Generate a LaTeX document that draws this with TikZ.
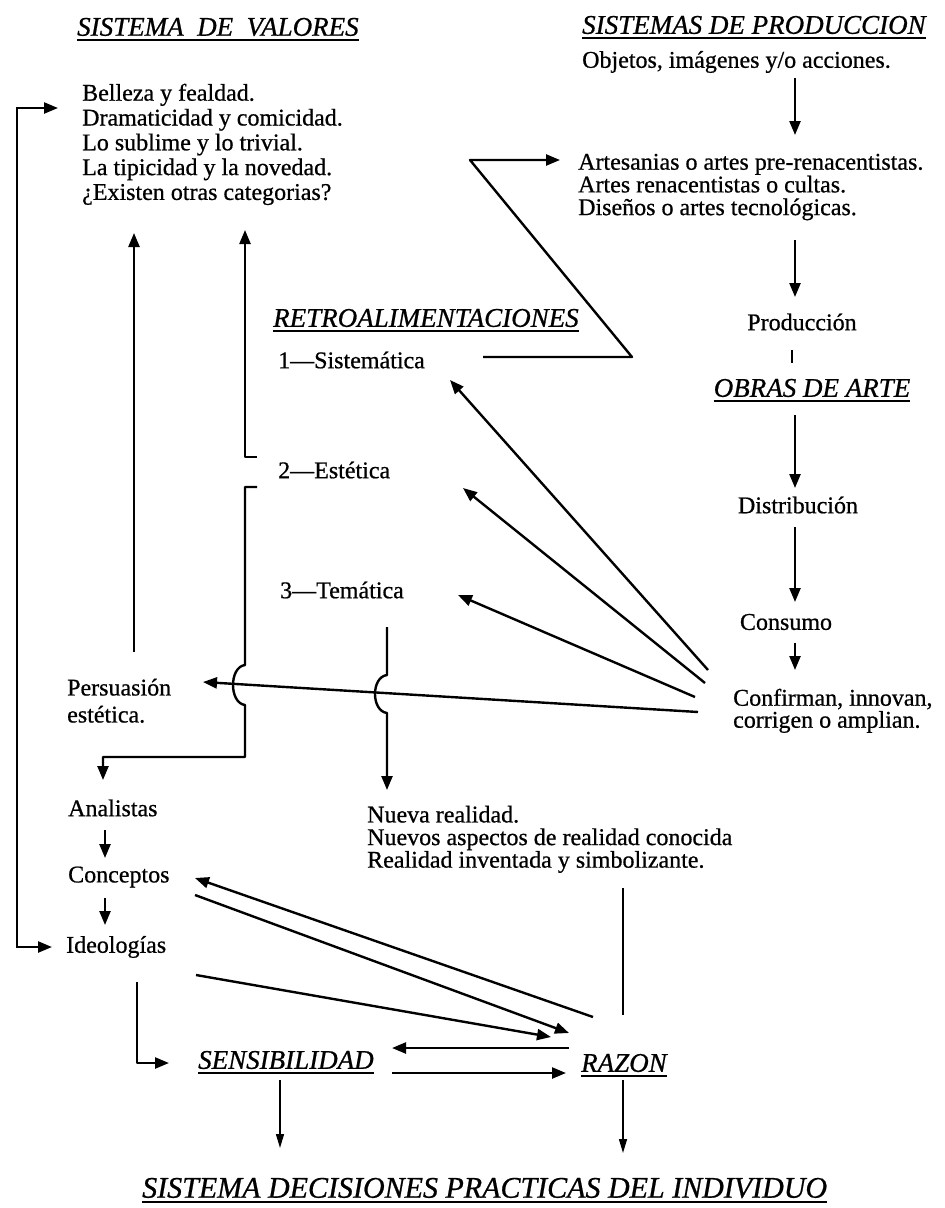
\documentclass[tikz,border=0pt]{standalone}
\usepackage{fontspec}
\setmainfont{Liberation Serif}[FakeBold=0.7]
\usetikzlibrary{arrows.meta}
\begin{document}
\begin{tikzpicture}[x=1pt,y=-1pt,
  txt/.style={inner sep=0pt,font=\fontsize{24}{25}\selectfont},
  ttl/.style={inner sep=0pt,font=\fontsize{27}{30}\selectfont\itshape},
  ln/.style={line width=2.4pt},
  arr/.style={line width=2.4pt,line join=round,-{Triangle[length=14pt,width=11pt]}},
  tharr/.style={line width=1.5pt,-{Triangle[length=14pt,width=8pt]}},
  thin/.style={line width=1.5pt},
  uline/.style={line width=2pt},
]
\fill[white] (0,0) rectangle (945,1208);
\useasboundingbox (0,0) rectangle (945,1208);

% ---------- titles ----------
\node[ttl,anchor=west] (tval) at (77,27) {SISTEMA\ \ DE\ \ VALORES};
\node[ttl,anchor=west] (tprod) at (582,25) {SISTEMAS DE PRODUCCION};
\node[ttl,anchor=west] (tretro) at (273,318) {RETROALIMENTACIONES};
\node[ttl,anchor=center] (obras) at (812,388) {OBRAS DE ARTE};
\node[ttl,anchor=west] (sens) at (198,1060) {SENSIBILIDAD};
\node[ttl,anchor=west] (razon) at (581,1063) {RAZON};
\node[ttl,anchor=west,font=\fontsize{30}{32}\selectfont\itshape] (tdec) at (142,1188) {SISTEMA DECISIONES PRACTICAS DEL INDIVIDUO};
\foreach \n in {tval,tprod,tretro,obras,sens,razon,tdec}
  \draw[uline] ([yshift=-4pt]\n.base west) -- ([yshift=-4pt]\n.base east);

% ---------- text blocks ----------
\node[txt,anchor=north west,align=left,font=\fontsize{24}{24.8}\selectfont] (vals) at (82,83.6)
  {Belleza y fealdad.\\Dramaticidad y comicidad.\\Lo sublime y lo trivial.\\La tipicidad y la novedad.\\¿Existen otras categorias?};
\node[txt,anchor=west] (objs) at (582,62) {Objetos, imágenes y/o acciones.};
\node[txt,anchor=north west,align=left,font=\fontsize{24}{22.7}\selectfont] (artes) at (578,153.6)
  {Artesanias o artes pre-renacentistas.\\Artes renacentistas o cultas.\\Diseños o artes tecnológicas.};
\node[txt] (prod) at (802,322) {Producción};
\node[txt] (dist) at (798,505) {Distribución};
\node[txt] (cons) at (786,622) {Consumo};
\node[txt,anchor=north west,align=left,font=\fontsize{24}{22}\selectfont] (conf) at (733,688.6)
  {Confirman, innovan,\\corrigen o amplian.};
\node[txt,anchor=west] (r1) at (278,360) {1—Sistemática};
\node[txt,anchor=west] (r2) at (278,470) {2—Estética};
\node[txt,anchor=west] (r3) at (280,590) {3—Temática};
\node[txt,anchor=north west,align=left,font=\fontsize{24}{27}\selectfont] (pers) at (67,678.6)
  {Persuasión\\estética.};
\node[txt,anchor=north west,align=left,font=\fontsize{24}{22.6}\selectfont] (nueva) at (367,805.6)
  {Nueva realidad.\\Nuevos aspectos de realidad conocida\\Realidad inventada y simbolizante.};
\node[txt,anchor=west] (anal) at (68,808) {Analistas};
\node[txt,anchor=west] (conc) at (68,877) {Conceptos};
\node[txt,anchor=west] (ideo) at (66,947) {Ideologías};

% ---------- connectors ----------
\coordinate (vIn) at (58,108);
\coordinate (vL1) at (17,108);
\coordinate (vL2) at (17,947);
\coordinate (iIn) at (52,947);
\draw[line width=2.4pt,{Triangle[length=14pt,width=11pt]}-{Triangle[length=14pt,width=11pt]}]
  (vIn) -- (vL1) -- (vL2) -- (iIn);

% persuasion -> values
\coordinate (pUp) at (134,652);
\coordinate (vA) at (134,233);
\draw[arr] (pUp) -- (vA);
% estetica -> values
\coordinate (e1) at (257,457);
\coordinate (vB) at (245,230);
\draw[arr] (e1) -- (245,457) -- (vB);
% estetica -> analistas
\coordinate (e2) at (257,487);
\coordinate (aTop) at (103,780);
\draw[arr] (e2) -- (245,487) -- (245,665) .. controls (229,667) and (229,703) .. (245,705)
  -- (245,757) -- (103,757) -- (aTop);
% tematica -> nueva realidad
\coordinate (t1) at (387,627);
\coordinate (nTop) at (387,790);
\draw[arr] (t1) -- (387,675) .. controls (371,677) and (371,711) .. (387,713) -- (nTop);
% confirman -> persuasion
\coordinate (c0) at (698,712);
\coordinate (pIn) at (203,682);
\draw[arr] (c0) -- (pIn);
% confirman -> retroalimentaciones
\coordinate (c1) at (708,670);
\coordinate (c2) at (705,683);
\coordinate (c3) at (695,697);
\coordinate (r1in) at (450,380);
\coordinate (r2in) at (463,488);
\coordinate (r3in) at (458,595);
\draw[arr] (c1) -- (r1in);
\draw[arr] (c2) -- (r2in);
\draw[arr] (c3) -- (r3in);
% sistematica -> artes
\coordinate (s0) at (483,357);
\coordinate (aIn) at (560,160);
\draw[arr] (s0) -- (632,357) -- (470,160) -- (aIn);

% right column
\coordinate (o1) at (795,78);  \coordinate (o2) at (795,135);
\coordinate (o3) at (795,240); \coordinate (o4) at (795,297);
\coordinate (o5) at (792,350); \coordinate (o6) at (792,363);
\coordinate (o7) at (795,415); \coordinate (o8) at (795,488);
\coordinate (o9) at (795,527); \coordinate (o10) at (795,602);
\coordinate (o11) at (795,643); \coordinate (o12) at (795,670);
\draw[arr] (o1) -- (o2);
\draw[arr] (o3) -- (o4);
\draw[ln] (o5) -- (o6);
\draw[arr] (o7) -- (o8);
\draw[arr] (o9) -- (o10);
\draw[arr] (o11) -- (o12);

% left column
\coordinate (l1) at (105,830); \coordinate (l2) at (105,858);
\coordinate (l3) at (105,898); \coordinate (l4) at (105,925);
\draw[arr] (l1) -- (l2);
\draw[arr] (l3) -- (l4);

% conceptos / ideologias <-> razon
\coordinate (cOut) at (195,895);
\coordinate (cIn) at (195,878);
\coordinate (iOut) at (196,975);
\coordinate (zIn1) at (569,1033);
\coordinate (zIn2) at (551,1037);
\coordinate (zOut) at (593,1017);
\draw[arr] (cOut) -- (zIn1);
\draw[arr] (zOut) -- (cIn);
\draw[arr] (iOut) -- (zIn2);
% ideologias -> sensibilidad
\coordinate (iDown) at (137,982);
\coordinate (sIn) at (169,1063);
\draw[arr] (iDown) -- (137,1063) -- (sIn);
% sensibilidad <-> razon
\coordinate (zs1) at (569,1048); \coordinate (zs2) at (392,1048);
\coordinate (sz1) at (392,1073); \coordinate (sz2) at (566,1073);
\draw[arr] (zs1) -- (zs2);
\draw[arr] (sz1) -- (sz2);
% realidad -> razon (line)
\coordinate (n1) at (623,888); \coordinate (n2) at (623,1015);
\draw[thin] (n1) -- (n2);
% down to decisions
\coordinate (d1) at (280,1080); \coordinate (d2) at (280,1148);
\coordinate (d3) at (623,1080); \coordinate (d4) at (623,1153);
\draw[tharr] (d1) -- (d2);
\draw[tharr] (d3) -- (d4);
\end{tikzpicture}
\end{document}
